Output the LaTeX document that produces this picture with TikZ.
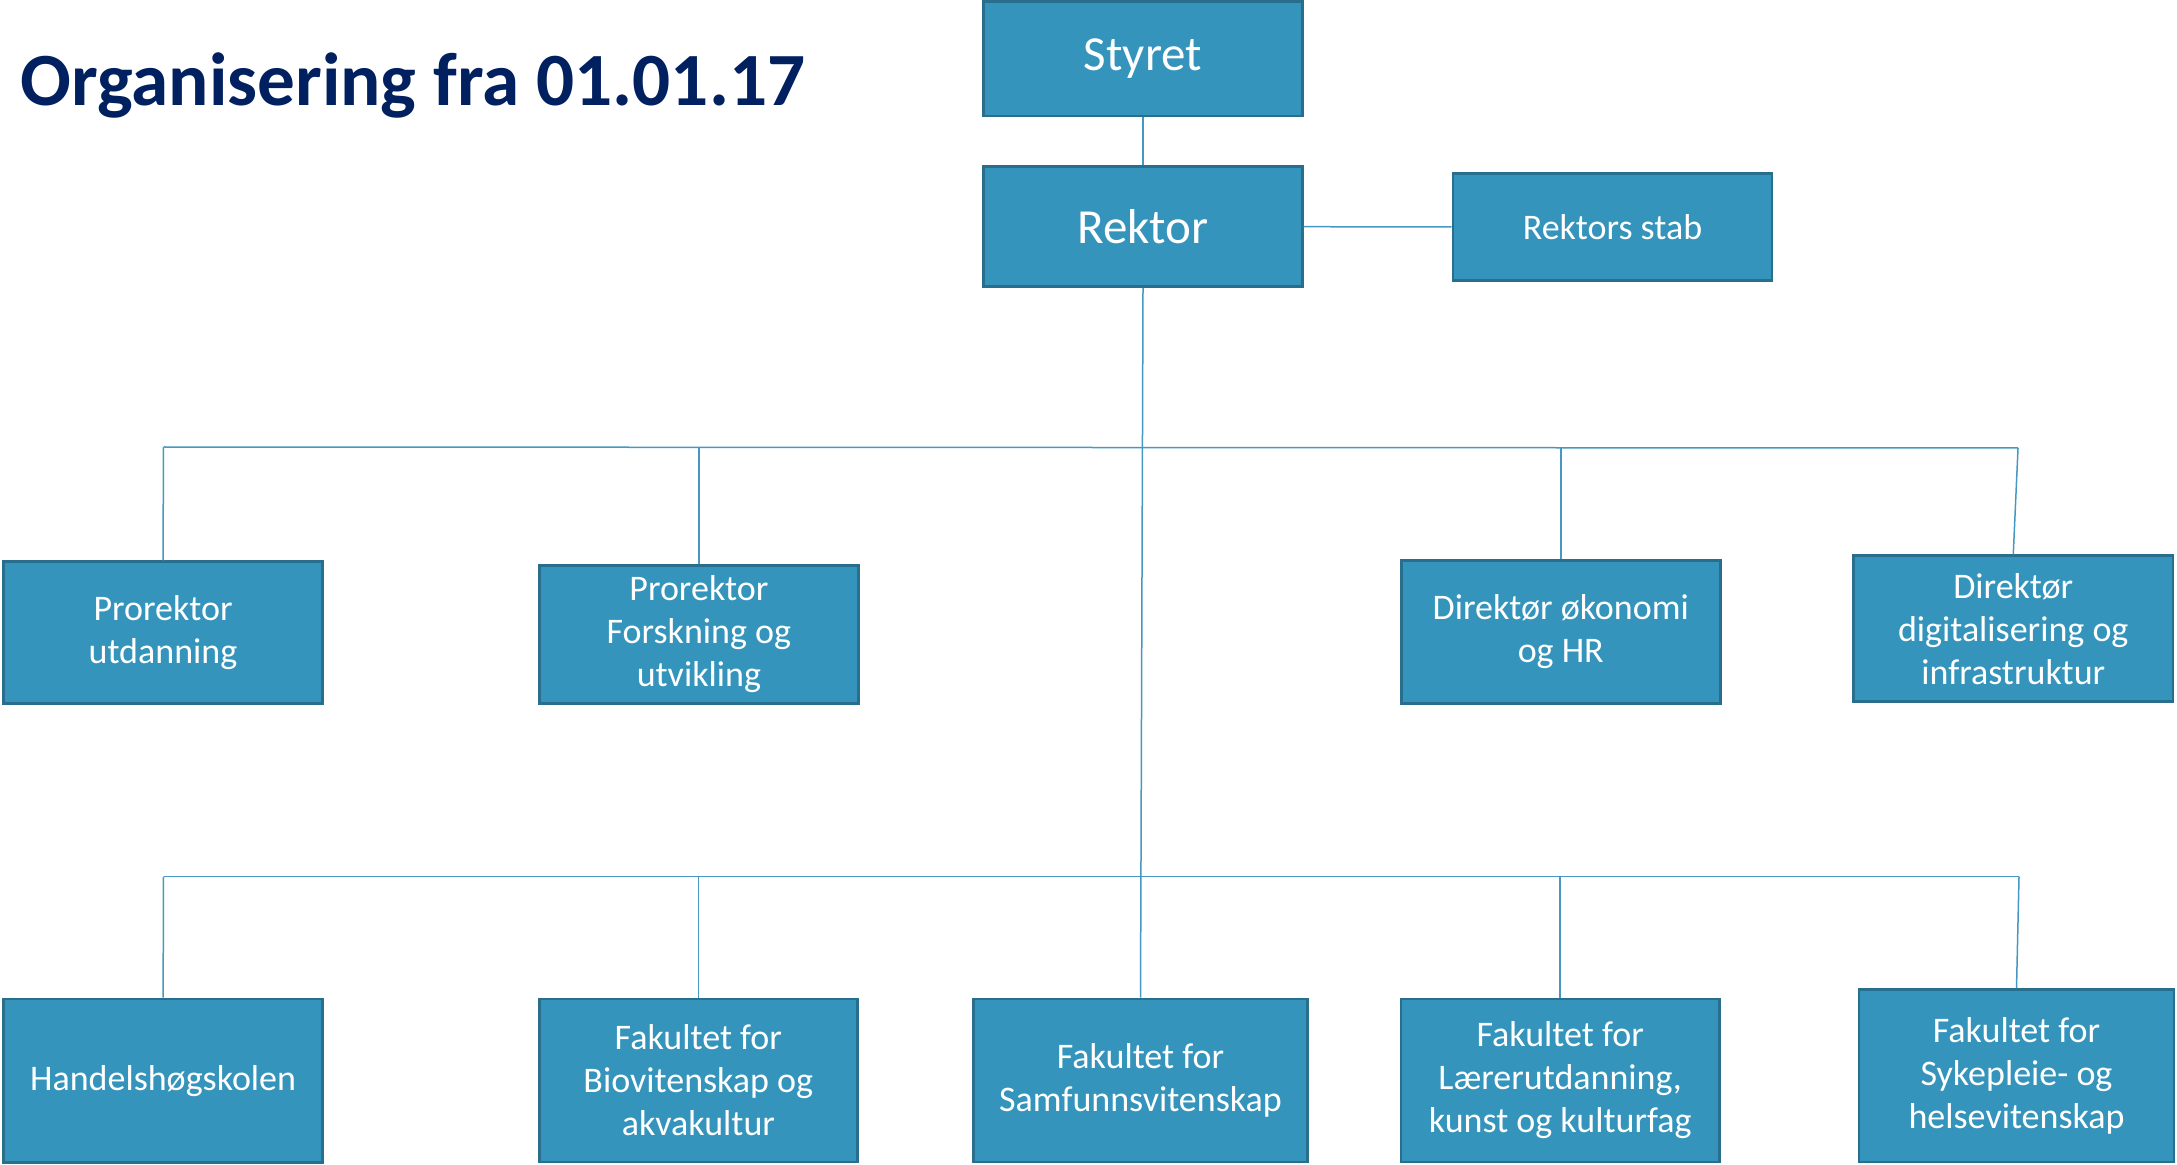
\documentclass[tikz,border=0pt]{standalone}
\usepackage{fontspec}
\setmainfont{Carlito}
\definecolor{boxfill}{HTML}{3594BB}
\definecolor{boxborder}{HTML}{2A6E8E}
\definecolor{linkcol}{HTML}{4698C2}
\definecolor{titlecol}{HTML}{002060}
\tikzset{
  box/.style={draw=boxborder, line width=1.3pt, fill=boxfill, text=white, align=center,
    font=\fontsize{18}{21.5}\selectfont, inner sep=0pt},
  bigbox/.style={box, font=\fontsize{24.5}{29}\selectfont},
  link/.style={draw=linkcol, line width=0.75pt}
}
\begin{document}
\begin{tikzpicture}[x=0.5pt,y=-0.5pt]
\useasboundingbox (0,0) rectangle (2177,1165);
\node[anchor=base west, text=titlecol, font=\fontsize{37.6}{44}\selectfont\bfseries, inner sep=0pt] (title) at (20,106) {Organisering fra 01.01.17};

\node[bigbox, minimum width=159.4pt, minimum height=57.15pt] (styret) at (1143,58.85) {\raisebox{-1.5pt}{Styret}};
\node[bigbox, minimum width=159.4pt, minimum height=60pt] (rektor) at (1143,226.7) {Rektor};
\node[box, minimum width=159.5pt, minimum height=53.7pt] (stab) at (1612.5,227) {Rektors stab};

\node[box, minimum width=159.6pt, minimum height=70.8pt] (PU) at (163,632.5) {Prorektor\\utdanning};
\node[box, minimum width=159.3pt, minimum height=68.8pt] (PFU) at (698.9,634.5) {Prorektor\\Forskning og\\utvikling};
\node[box, minimum width=159.55pt, minimum height=71.3pt] (DO) at (1560.75,632) {Direktør økonomi\\og HR};
\node[box, minimum width=159.55pt, minimum height=73pt] (DD) at (2013.25,628.7) {Direktør\\digitalisering og\\infrastruktur};

\node[box, minimum width=159.6pt, minimum height=81.65pt] (HHS) at (163.1,1080.65) {Handelshøgskolen};
\node[box, minimum width=158.85pt, minimum height=81.5pt] (BIO) at (698.35,1080.5) {Fakultet for\\Biovitenskap og\\akvakultur};
\node[box, minimum width=166.85pt, minimum height=81.5pt] (SAM) at (1140.5,1080.5) {Fakultet for\\Samfunnsvitenskap};
\node[box, minimum width=159.4pt, minimum height=81.5pt] (LU) at (1560.2,1080.5) {Fakultet for\\Lærerutdanning,\\kunst og kulturfag};
\node[box, minimum width=157.5pt, minimum height=86.35pt] (SH) at (2016.5,1075.65) {Fakultet for\\Sykepleie- og\\helsevitenskap};

\coordinate (tl) at (163.5,447);
\coordinate (tr) at (2018,448);
\coordinate (bl) at (163.5,876.7);
\coordinate (br) at (2019,876.7);

\draw[link] (styret.south) -- (rektor.north);
\draw[link] (rektor.east) -- (stab.west);
\draw[link] (rektor.south) -- (SAM.north);
\draw[link] (tl) -- (tr);
\draw[link] (bl) -- (br);
\draw[link] (tl) -- (PU.north);
\draw[link] (PFU.north |- tl) -- (PFU.north);
\draw[link] (DO.north |- tl) -- (DO.north);
\draw[link] (tr) -- (DD.north);
\draw[link] (bl) -- (HHS.north);
\draw[link] (BIO.north |- bl) -- (BIO.north);
\draw[link] (LU.north |- bl) -- (LU.north);
\draw[link] (br) -- (SH.north);
\end{tikzpicture}
\end{document}
